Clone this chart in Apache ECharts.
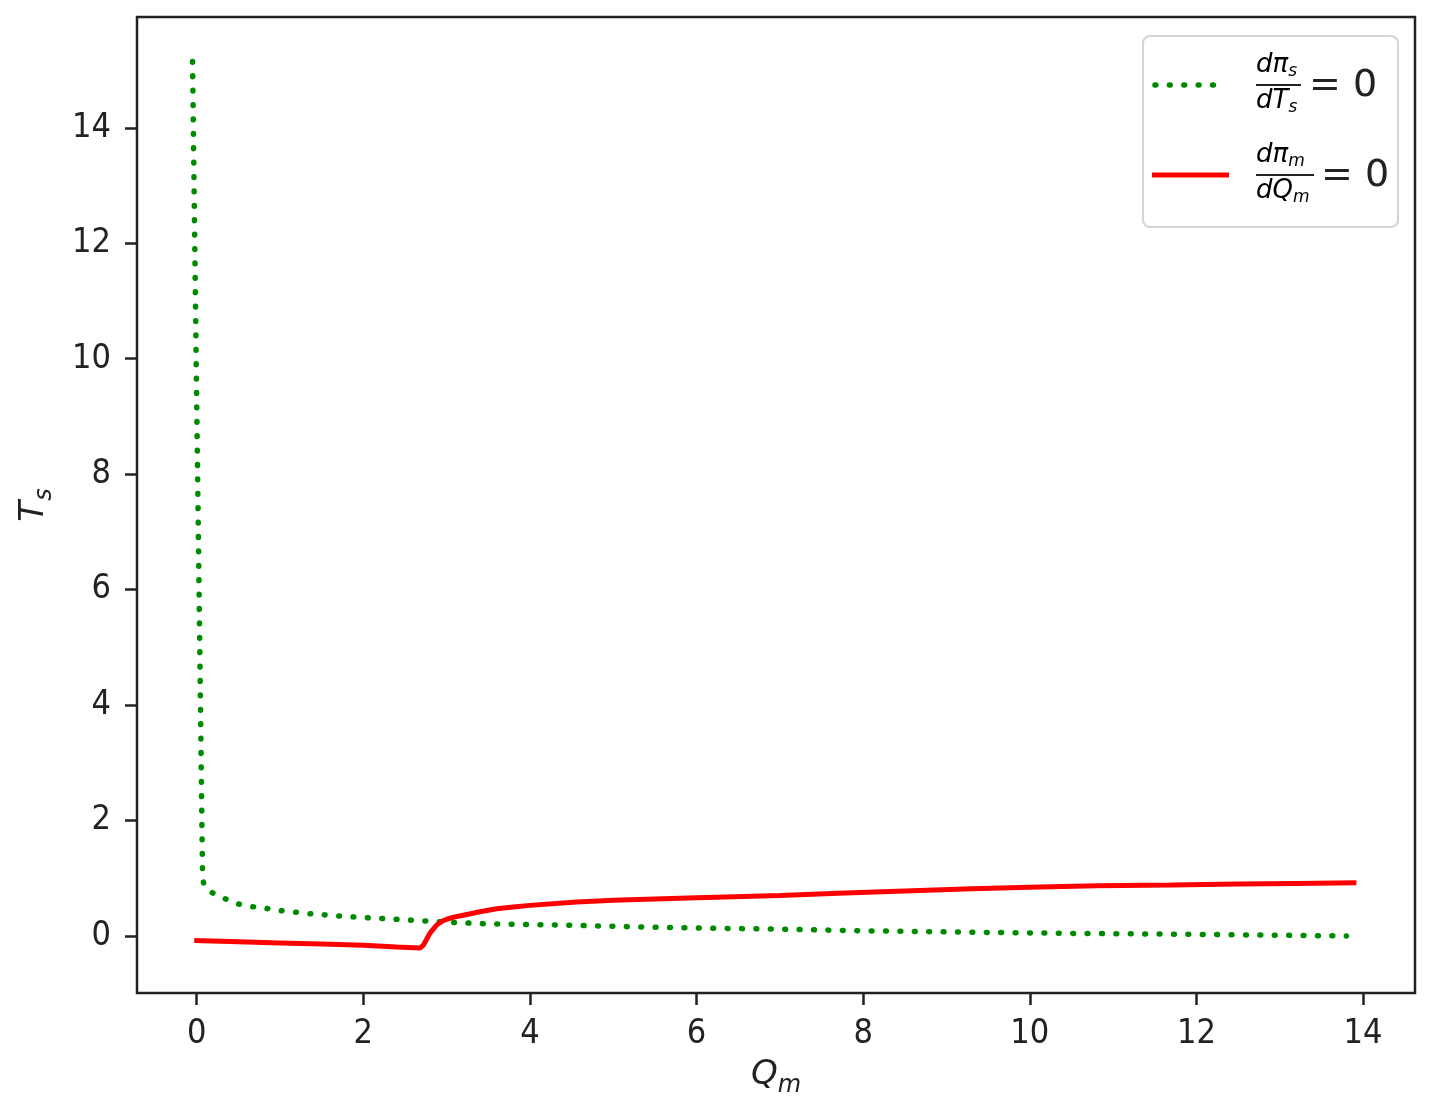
<!DOCTYPE html>
<html><head><meta charset="utf-8">
<script src="https://cdn.jsdelivr.net/npm/echarts@6/dist/echarts.min.js"></script>
<style>html,body{margin:0;padding:0;background:#fff}#c{width:1440px;height:1118px}</style>
</head><body><div id="c"></div>
<script>
// dπs/dTs = 0 curve (green dotted)
const greenQ = [-0.05, 0.0, 0.03, 0.07, 0.09, 0.17, 0.30, 0.48, 0.65, 0.82, 1.0, 1.33, 1.67, 2.0, 2.5, 3.0, 3.5, 4.36, 5.5, 6.88, 8.0, 9.3, 10.5, 11.4, 12.5, 13.8];
const greenT = [15.15, 9.2, 5.8, 1.0, 0.87, 0.76, 0.67, 0.56, 0.51, 0.48, 0.44, 0.39, 0.35, 0.32, 0.28, 0.24, 0.21, 0.19, 0.15, 0.12, 0.09, 0.065, 0.045, 0.035, 0.02, 0.0];
// dπm/dQm = 0 curve (red solid)
const redQ = [-0.03, 0.5, 1.0, 1.5, 2.0, 2.4, 2.68, 2.72, 2.8, 2.88, 2.95, 3.0, 3.1, 3.2, 3.4, 3.6, 3.8, 4.0, 4.56, 5.0, 6.0, 7.0, 7.7, 8.5, 9.3, 10.0, 10.8, 11.7, 12.5, 13.2, 13.92];
const redT = [-0.08, -0.10, -0.12, -0.14, -0.16, -0.19, -0.21, -0.16, 0.05, 0.19, 0.26, 0.29, 0.33, 0.36, 0.42, 0.47, 0.50, 0.53, 0.59, 0.62, 0.66, 0.70, 0.74, 0.78, 0.82, 0.845, 0.87, 0.885, 0.90, 0.91, 0.92];
const xTickValues = [0, 2, 4, 6, 8, 10, 12, 14];
const yTickValues = [0, 2, 4, 6, 8, 10, 12, 14];

const zip = (a, b) => a.map((v, i) => [v, b[i]]);
const NARROW = "'Liberation Sans Narrow', 'DejaVu Sans Condensed', 'DejaVu Sans', sans-serif";
const MATH = "'DejaVu Sans', sans-serif";
const AX = '#222';

const chart = echarts.init(document.getElementById('c'), null, {renderer: 'canvas'});

const fracRich = {
  a: {fontFamily: MATH, fontStyle: 'italic', fontSize: 26, color: '#222', verticalAlign: 'top', lineHeight: 28},
  b: {fontFamily: MATH, fontStyle: 'italic', fontSize: 17, color: '#222', verticalAlign: 'bottom', lineHeight: 19, padding: [13, 0, 0, 0]}
};

chart.setOption({
  animation: false,
  backgroundColor: '#fff',
  grid: {left: 137, right: 25, top: 17, bottom: 125, show: true, borderColor: AX, borderWidth: 2.5, containLabel: false, outerBoundsMode: 'none'},
  xAxis: {
    type: 'value', min: -0.717, max: 14.624,
    axisLine: {show: false, onZero: false},
    splitLine: {show: false},
    axisTick: {show: true, inside: false, length: 12, lineStyle: {color: AX, width: 2.5}, customValues: xTickValues},
    axisLabel: {customValues: xTickValues, margin: 24, fontFamily: NARROW, fontSize: 34, color: AX},
    name: '{q|Q}{m|m}', nameLocation: 'middle', nameGap: 64,
    nameTextStyle: {
      rich: {
        q: {fontFamily: MATH, fontStyle: 'italic', fontSize: 34, color: AX, verticalAlign: 'top', lineHeight: 40},
        m: {fontFamily: MATH, fontStyle: 'italic', fontSize: 24, color: AX, verticalAlign: 'bottom', lineHeight: 28, padding: [18, 0, 0, 0]}
      }
    }
  },
  yAxis: {
    type: 'value', min: -0.988, max: 15.92,
    axisLine: {show: false, onZero: false},
    splitLine: {show: false},
    axisTick: {show: true, inside: false, length: 12, lineStyle: {color: AX, width: 2.5}, customValues: yTickValues},
    axisLabel: {customValues: yTickValues, margin: 26, fontFamily: NARROW, fontSize: 34, color: AX},
    name: '{t|T}{s|s}', nameLocation: 'middle', nameGap: 80, nameRotate: 90,
    nameTextStyle: {
      rich: {
        t: {fontFamily: MATH, fontStyle: 'italic', fontSize: 34, color: AX, verticalAlign: 'top', lineHeight: 40},
        s: {fontFamily: MATH, fontStyle: 'italic', fontSize: 24, color: AX, verticalAlign: 'bottom', lineHeight: 28, padding: [18, 0, 0, 0]}
      }
    }
  },
  series: [
    {
      name: 'dπs/dTs = 0', type: 'line', data: zip(greenQ, greenT), showSymbol: false, smooth: false,
      lineStyle: {color: '#008a00', width: 5.5, type: [0.8, 13.6], cap: 'round'}, z: 3
    },
    {
      name: 'dπm/dQm = 0', type: 'line', data: zip(redQ, redT), showSymbol: false, smooth: false,
      lineStyle: {color: '#ff0000', width: 5, cap: 'butt'}, z: 4
    }
  ],
  graphic: [
    {type: 'rect', shape: {x: 1143, y: 36, width: 255, height: 191, r: 7}, style: {fill: 'rgba(255,255,255,0.85)', stroke: '#d4d4d4', lineWidth: 2}, z: 10},
    {type: 'line', shape: {x1: 1155, y1: 85, x2: 1225, y2: 85}, style: {stroke: '#008a00', lineWidth: 5.5, lineDash: [0.8, 13.6], lineCap: 'round'}, z: 11},
    {type: 'line', shape: {x1: 1152, y1: 175, x2: 1229, y2: 175}, style: {stroke: '#ff0000', lineWidth: 5}, z: 11},
    // entry 1
    {type: 'text', x: 1256, y: 52, style: {text: '{a|dπ}{b|s}', rich: fracRich, align: 'left', verticalAlign: 'top'}, z: 11},
    {type: 'line', shape: {x1: 1256, y1: 85, x2: 1301, y2: 85}, style: {stroke: '#222', lineWidth: 2}, z: 11},
    {type: 'text', x: 1256, y: 88, style: {text: '{a|dT}{b|s}', rich: fracRich, align: 'left', verticalAlign: 'top'}, z: 11},
    {type: 'text', x: 1309, y: 86, style: {text: '= 0', fontFamily: MATH, fontSize: 38, fill: '#222', align: 'left', verticalAlign: 'middle'}, z: 11},
    // entry 2
    {type: 'text', x: 1256, y: 142, style: {text: '{a|dπ}{b|m}', rich: fracRich, align: 'left', verticalAlign: 'top'}, z: 11},
    {type: 'line', shape: {x1: 1256, y1: 175, x2: 1314, y2: 175}, style: {stroke: '#222', lineWidth: 2}, z: 11},
    {type: 'text', x: 1256, y: 178, style: {text: '{a|dQ}{b|m}', rich: fracRich, align: 'left', verticalAlign: 'top'}, z: 11},
    {type: 'text', x: 1321, y: 176, style: {text: '= 0', fontFamily: MATH, fontSize: 38, fill: '#222', align: 'left', verticalAlign: 'middle'}, z: 11}
  ]
});
</script>
</body></html>
